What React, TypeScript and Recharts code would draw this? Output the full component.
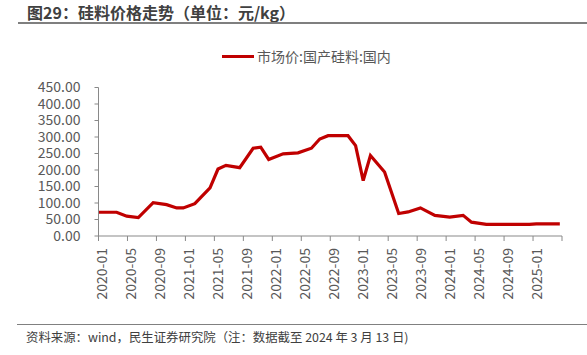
import React from 'react';
import { LineChart, Line, XAxis, YAxis } from 'recharts';

// month offsets from 2020-01 (points sit mid-month in the source chart)
const monthPos = [0, 2.5, 3.9, 5.5, 7.55, 9.4, 10.8, 11.7, 13.3, 15.4, 16.5, 17.6, 19.5, 21.35, 22.4, 23.5, 25.5, 27.55, 29.4, 30.55, 31.7, 34.45, 35.5, 36.55, 37.55, 39.5, 41.45, 42.75, 44.45, 46.45, 48.5, 50.35, 51.5, 53.55, 59.5, 60.45, 63.7];
const prices = [72, 72, 60, 56, 101, 95, 85, 85, 98, 146, 203, 214, 207, 266, 269, 232, 249, 252, 266, 294, 304, 304, 274, 168, 244, 194, 68, 73, 85, 62.5, 57.5, 62.5, 42, 35, 35, 37, 37];

const tickLabels = ['2020-01', '2020-05', '2020-09', '2021-01', '2021-05', '2021-09', '2022-01', '2022-05', '2022-09', '2023-01', '2023-05', '2023-09', '2024-01', '2024-05', '2024-09', '2025-01'];
const yTicks = [0, 50, 100, 150, 200, 250, 300, 350, 400, 450];

const seriesName = '市场价:国产硅料:国内';
const title = '图29：硅料价格走势（单位：元/kg）';
const note = '资料来源：wind，民生证券研究院（注：数据截至 2024 年 3 月 13 日)';

const data = monthPos.map((m, i) => ({ m, price: prices[i] }));
const xTicks = [...tickLabels.map((_, i) => i * 4), 64];

const FONT = '"Noto Sans CJK SC", "Noto Sans", sans-serif';
const RED = '#C00000';
const AXIS = '#898989';
const TEXT = '#595959';

const XTick = ({ x, payload }: any) => {
  const label = tickLabels[payload.value / 4];
  if (!label) return null;
  const y = 248;
  return (
    <text
      x={x}
      y={y}
      dy={8.5}
      transform={`rotate(-90, ${x}, ${y})`}
      textAnchor="end"
      fill={TEXT}
      fontSize={14}
      fontFamily={FONT}
    >
      {label}
    </text>
  );
};

export default function App() {
  return (
    <div style={{ position: 'absolute', left: 0, top: 0, width: 587, height: 355, background: '#fff', fontFamily: FONT, overflow: 'hidden' }}>
      <div style={{ position: 'absolute', left: 27, top: 2, fontSize: 16, lineHeight: '20px', fontWeight: 'bold', color: '#404040', whiteSpace: 'nowrap' }}>
        {title}
      </div>
      <div style={{ position: 'absolute', left: 18, top: 22, width: 569, height: 2, background: '#7f7f7f' }} />

      {/* legend */}
      <div style={{ position: 'absolute', left: 222, top: 46, height: 20, display: 'flex', alignItems: 'center', fontSize: 14, color: TEXT, whiteSpace: 'nowrap' }}>
        <div style={{ width: 32, height: 3, background: RED, marginRight: 3 }} />
        <span>{seriesName}</span>
      </div>

      <div style={{ position: 'absolute', left: 0, top: 0 }}>
        <LineChart width={587} height={355} data={data} margin={{ top: 87.5, right: 25, bottom: 59, left: 0 }}>
          <XAxis
            dataKey="m"
            type="number"
            domain={[0, 64]}
            ticks={xTicks}
            interval={0}
            tick={<XTick />}
            height={60}
            stroke={AXIS}
            tickSize={5}
          />
          <YAxis
            domain={[0, 450]}
            ticks={yTicks}
            interval={0}
            width={98.5}
            stroke={AXIS}
            tickSize={4}
            tickMargin={14}
            tick={{ fill: TEXT, fontSize: 14, fontFamily: FONT }}
            tickFormatter={(v: number) => v.toFixed(2)}
          />
          <Line
            type="linear"
            dataKey="price"
            name={seriesName}
            stroke={RED}
            strokeWidth={3.2}
            dot={false}
            isAnimationActive={false}
          />
        </LineChart>
      </div>

      <div style={{ position: 'absolute', left: 17, top: 324, width: 570, height: 1.3, background: '#808080' }} />
      <div style={{ position: 'absolute', left: 26, top: 329, fontSize: 12.4, lineHeight: '16px', color: '#404040', whiteSpace: 'nowrap' }}>
        {note}
      </div>
    </div>
  );
}
